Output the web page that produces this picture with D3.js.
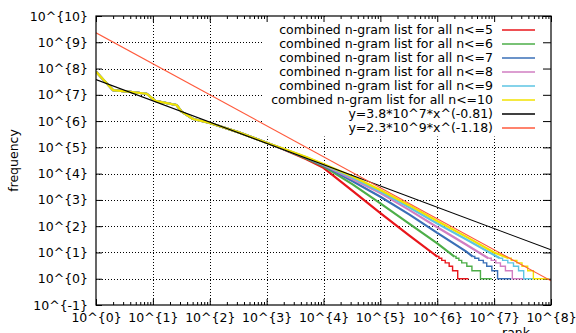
<!DOCTYPE html>
<html>
<head>
<meta charset="utf-8">
<script src="https://cdn.jsdelivr.net/npm/d3@7"></script>
<style>
  html, body { margin: 0; padding: 0; background: #fff; }
  svg { display: block; font-family: "DejaVu Sans", sans-serif; }
</style>
</head>
<body>
<div class="chart"></div>
<script>
// [rank, frequency]; all lists share the same top ranks
const headPoints = [[1, 7.6e7], [2, 1.5e7], [4, 1.3e7], [7.8, 1.1e7], [11, 5.9e6], [26, 4.1e6], [32, 2.3e6], [51, 1.2e6], [100, 8.5e5], [316, 3.8e5], [1000, 1.5e5]];

const n5Body = [[2000, 8.3e4], [5000, 3.5e4], [1e4, 1.66e4], [3.2e4, 2240], [1e5, 316], [3.2e5, 45], [1e6, 7]];
const n5Tail = [[1e6, 7], [1.07e6, 6], [1.2e6, 5], [1.38e6, 4], [1.62e6, 3], [1.86e6, 2], [2.29e6, 1], [3.55e6, 1]];

const n6Body = [[2000, 8.5e4], [5000, 3.8e4], [1e4, 1.9e4], [3.2e4, 3980], [1e5, 741], [3.2e5, 126], [1e6, 22], [2e6, 7]];
const n6Tail = [[2e6, 7], [2.14e6, 6], [2.4e6, 5], [2.69e6, 4], [3.31e6, 3], [4.07e6, 2], [5.75e6, 1], [9.1e6, 1]];

const n7Body = [[2000, 8.5e4], [5000, 4.0e4], [1e4, 2.04e4], [3.2e4, 5250], [1e5, 1320], [3.2e5, 282], [1e6, 56], [3.2e6, 11], [4.2e6, 7]];
const n7Tail = [[4.2e6, 7], [4.57e6, 6], [5.37e6, 5], [6.46e6, 4], [7.41e6, 3], [9.12e6, 2], [1.15e7, 1], [2.0e7, 1]];

const n8Body = [[2000, 8.7e4], [5000, 4.1e4], [1e4, 2.14e4], [3.2e4, 6300], [1e5, 1820], [3.2e5, 417], [1e6, 91], [3.2e6, 20], [7.9e6, 6]];
const n8Tail = [[7.9e6, 6], [8.9e6, 5], [1.07e7, 4], [1.29e7, 3], [1.58e7, 2], [2.09e7, 1], [3.55e7, 1]];

const n9Body = [[2000, 8.7e4], [5000, 4.2e4], [1e4, 2.24e4], [3.2e4, 7080], [1e5, 2090], [3.2e5, 525], [1e6, 126], [3.2e6, 32], [1e7, 8], [1.26e7, 6]];
const n9Tail = [[1.26e7, 6], [1.41e7, 5], [1.74e7, 4], [2.19e7, 3], [2.69e7, 2], [3.31e7, 1], [4.9e7, 1]];

const n10Body = [[2000, 8.8e4], [5000, 4.3e4], [1e4, 2.34e4], [3.2e4, 7940], [1e5, 2400], [3.2e5, 631], [1e6, 158], [3.2e6, 40], [1e7, 10], [1.8e7, 6]];
const n10Tail = [[1.8e7, 6], [2.0e7, 5], [2.51e7, 4], [3.09e7, 3], [3.89e7, 2], [4.9e7, 1], [9.1e7, 1]];

// fitted power laws, end points at rank 1 and rank 1e8
const fitSmall = [[1, 3.8e7], [1e8, 12.6]];
const fitLarge = [[1, 2.3e9], [1e8, 0.835]];

const seriesLabels = [
  "combined n-gram list for all n<=5",
  "combined n-gram list for all n<=6",
  "combined n-gram list for all n<=7",
  "combined n-gram list for all n<=8",
  "combined n-gram list for all n<=9",
  "combined n-gram list for all n<=10",
];
const fitLabels = ["y=3.8*10^7*x^(-0.81)", "y=2.3*10^9*x^(-1.18)"];

const xTickExp = [0, 1, 2, 3, 4, 5, 6, 7, 8];
const yTickExp = [-1, 0, 1, 2, 3, 4, 5, 6, 7, 8, 9, 10];

const WIDTH = 576;
const HEIGHT = 333;
const LEFT = 96;
const RIGHT = 551;
const TOP = 16;
const BOTTOM = 305;
const FONT = 12.5;

const seriesColors = ["#e8161b", "#4dae48", "#3a6fb7", "#d17ec2", "#5cc5e3", "#f2e200"];
const fitColors = ["#000000", "#ff5a3c"];

const series = [
  { body: n5Body, tail: n5Tail },
  { body: n6Body, tail: n6Tail },
  { body: n7Body, tail: n7Tail },
  { body: n8Body, tail: n8Tail },
  { body: n9Body, tail: n9Tail },
  { body: n10Body, tail: n10Tail },
];

const svg = d3.create("svg").attr("width", WIDTH).attr("height", HEIGHT);
svg.append("rect").attr("width", WIDTH).attr("height", HEIGHT).attr("fill", "#fff");

const x = d3.scaleLog().domain([1, 1e8]).range([LEFT, RIGHT]);
const y = d3.scaleLog().domain([0.1, 1e10]).range([BOTTOM, TOP]);

const xMajor = xTickExp.map((e) => Math.pow(10, e));
const yMajor = yTickExp.map((e) => Math.pow(10, e));
const xMinor = [];
for (let e = 0; e < 8; e++) {
  for (let m = 2; m <= 9; m++) xMinor.push(m * Math.pow(10, e));
}

// Grid
const grid = svg.append("g").attr("stroke", "#000").attr("stroke-width", 1).attr("stroke-dasharray", "1,2");
grid.selectAll(".gx").data(xMajor.slice(1, -1)).join("line")
  .attr("x1", (d) => Math.round(x(d)) + 0.5).attr("x2", (d) => Math.round(x(d)) + 0.5)
  .attr("y1", TOP).attr("y2", BOTTOM);
grid.selectAll(".gy").data(yMajor.slice(1, -1)).join("line")
  .attr("y1", (d) => Math.round(y(d)) + 0.5).attr("y2", (d) => Math.round(y(d)) + 0.5)
  .attr("x1", LEFT).attr("x2", RIGHT);

// opaque key box: hides the grid behind the legend
const legendItems = seriesLabels.map((t, i) => ({ text: t, color: seriesColors[i] }))
  .concat(fitLabels.map((t, i) => ({ text: t, color: fitColors[i] })));
const LEGEND_Y = 29.5;
const LEGEND_STEP = 14;

svg.append("rect")
  .attr("x", 262).attr("y", TOP + 1)
  .attr("width", RIGHT - 262).attr("height", LEGEND_Y + legendItems.length * LEGEND_STEP - TOP - 6)
  .attr("fill", "#fff");

// Axes
const fmt = (d) => `10^{${Math.round(Math.log10(d))}}`;

svg.append("g").attr("transform", `translate(0,${BOTTOM})`)
  .call(d3.axisBottom(x).tickValues(xMajor).tickFormat(fmt).tickSizeInner(-6).tickSizeOuter(0).tickPadding(8));
svg.append("g").attr("transform", `translate(${LEFT},0)`)
  .call(d3.axisLeft(y).tickValues(yMajor).tickFormat(fmt).tickSizeInner(-6).tickSizeOuter(0).tickPadding(8));
svg.append("g").attr("transform", `translate(${RIGHT},0)`)
  .call(d3.axisRight(y).tickValues(yMajor).tickFormat("").tickSizeInner(-8).tickSizeOuter(0));
svg.append("g").attr("transform", `translate(0,${TOP})`)
  .call(d3.axisTop(x).tickValues(xMajor).tickFormat("").tickSizeInner(-6).tickSizeOuter(0));
svg.append("g").attr("transform", `translate(0,${BOTTOM})`)
  .call(d3.axisBottom(x).tickValues(xMinor).tickFormat("").tickSizeInner(-3).tickSizeOuter(0));
svg.append("g").attr("transform", `translate(0,${TOP})`)
  .call(d3.axisTop(x).tickValues(xMinor).tickFormat("").tickSizeInner(-3).tickSizeOuter(0));

svg.selectAll(".domain").remove();
svg.selectAll(".tick line").attr("stroke", "#000");
svg.selectAll(".tick text").attr("font-family", "DejaVu Sans").attr("font-size", FONT).attr("fill", "#000");

// Data curves
svg.append("clipPath").attr("id", "plot-clip")
  .append("rect").attr("x", LEFT).attr("y", TOP).attr("width", RIGHT - LEFT).attr("height", BOTTOM - TOP);

const plot = svg.append("g").attr("clip-path", "url(#plot-clip)");

const lineLinear = d3.line().x((d) => x(d[0])).y((d) => y(d[1]));
const lineStep = d3.line().x((d) => x(d[0])).y((d) => y(d[1])).curve(d3.curveStepAfter);

series.forEach((s, i) => {
  plot.append("path")
    .attr("d", lineLinear(headPoints.concat(s.body)))
    .attr("fill", "none")
    .attr("stroke", seriesColors[i])
    .attr("stroke-width", 2.2)
    .attr("stroke-linejoin", "round");
  plot.append("path")
    .attr("d", lineStep(s.tail))
    .attr("fill", "none")
    .attr("stroke", seriesColors[i])
    .attr("stroke-width", 1.4);
});

[fitSmall, fitLarge].forEach((f, i) => {
  plot.append("path")
    .attr("d", lineLinear(f))
    .attr("fill", "none")
    .attr("stroke", fitColors[i])
    .attr("stroke-width", 1.1);
});

// Border
svg.append("rect")
  .attr("x", LEFT).attr("y", TOP).attr("width", RIGHT - LEFT).attr("height", BOTTOM - TOP)
  .attr("fill", "none").attr("stroke", "#000").attr("stroke-width", 1.2);

// Legend
const legend = svg.append("g")
  .selectAll("g")
  .data(legendItems)
  .join("g")
  .attr("transform", (d, i) => `translate(0,${LEGEND_Y + i * LEGEND_STEP})`);

legend.append("text")
  .attr("x", 493).attr("y", 4.5)
  .attr("text-anchor", "end")
  .attr("font-size", FONT)
  .attr("fill", "#000")
  .text((d) => d.text);

legend.append("line")
  .attr("x1", 502).attr("x2", 535).attr("y1", 0.5).attr("y2", 0.5)
  .attr("stroke", (d) => d.color)
  .attr("stroke-width", 1.3);

// Axis titles
svg.append("text")
  .attr("transform", `translate(18,${(TOP + BOTTOM) / 2}) rotate(-90)`)
  .attr("text-anchor", "middle")
  .attr("font-size", FONT)
  .text("frequency");

svg.append("text")
  .attr("x", 516).attr("y", 337)
  .attr("text-anchor", "middle")
  .attr("font-size", FONT)
  .text("rank");

document.querySelector(".chart").append(svg.node());
</script>
</body>
</html>
